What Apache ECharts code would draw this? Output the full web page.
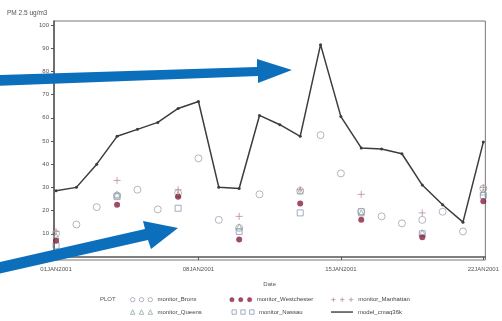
<!DOCTYPE html>
<html>
<head>
<meta charset="utf-8">
<script src="https://cdn.jsdelivr.net/npm/echarts@6/dist/echarts.min.js"></script>
<style>
html, body { margin: 0; padding: 0; background: #fff; }
#chart { width: 502px; height: 321px; }
</style>
</head>
<body>
<div id="chart"></div>
<script>
// Daily PM2.5, January 2001
const dates = ['01JAN2001','02JAN2001','03JAN2001','04JAN2001','05JAN2001','06JAN2001','07JAN2001',
  '08JAN2001','09JAN2001','10JAN2001','11JAN2001','12JAN2001','13JAN2001','14JAN2001','15JAN2001',
  '16JAN2001','17JAN2001','18JAN2001','19JAN2001','20JAN2001','21JAN2001','22JAN2001'];
const xTickLabels = ['01JAN2001','08JAN2001','15JAN2001','22JAN2001'];
const yTickLabels = [0, 10, 20, 30, 40, 50, 60, 70, 80, 90, 100];

const modelCmaq36k = [28.5, 30, 40, 52, 55, 58, 64, 67, 30, 29.5, 61, 57, 52, 91.5, 60.5, 47, 46.5, 44.5, 31, 22.5, 15, 49.5];
const monitorBronx = [10, 14, 21.5, 26.5, 29, 20.5, 27.5, 42.5, 16, 12.5, 27, null, 28.5, 52.5, 36, 19.5, 17.5, 14.5, 16, 19.5, 11, 29.5];
const monitorQueens = [9, null, null, 27, null, null, 27, null, null, 13, null, null, 28.5, null, null, 19, null, null, 10.5, null, null, 28];
const monitorWestchester = [7, null, null, 22.5, null, null, 26, null, null, 7.5, null, null, 23, null, null, 16, null, null, 8.5, null, null, 24];
const monitorNassau = [5, null, null, 26, null, null, 21, null, null, 11, null, null, 19, null, null, 19.5, null, null, 10, null, null, 26.5];
const monitorManhattan = [11, null, null, 33, null, null, 29, null, null, 17.5, null, null, 29, null, null, 27, null, null, 19, null, null, 30];

const FONT = 'Liberation Sans';
const dayOf = d => dates.indexOf(d) + 1;
const pairs = arr => arr.map((v, i) => [i + 1, v]).filter(p => p[1] !== null);

// three-symbol legend glyphs (22 x 5 box)
const ICON_CIRCLES = 'path://M0.4,2.5a2.1,2.1 0 1,0 4.2,0a2.1,2.1 0 1,0 -4.2,0Z' +
  'M8.9,2.5a2.1,2.1 0 1,0 4.2,0a2.1,2.1 0 1,0 -4.2,0Z' +
  'M17.4,2.5a2.1,2.1 0 1,0 4.2,0a2.1,2.1 0 1,0 -4.2,0Z';
const ICON_TRIANGLES = 'path://M0.4,4.8L2.5,0.3L4.6,4.8ZM8.9,4.8L11,0.3L13.1,4.8ZM17.4,4.8L19.5,0.3L21.6,4.8Z';
const ICON_SQUARES = 'path://M0.4,0.4h4.2v4.2h-4.2ZM8.9,0.4h4.2v4.2h-4.2ZM17.4,0.4h4.2v4.2h-4.2Z';
const ICON_PLUS = 'path://M0.4,2.5h4.2M2.5,0.4v4.2M8.9,2.5h4.2M11,0.4v4.2M17.4,2.5h4.2M19.5,0.4v4.2';
const ICON_LINE = 'path://M0,1.8h22v1.4h-22Z';
const PLUS = 'path://M0,5L10,5M5,0L5,10';

const C_BRONX = '#a2a2b4', C_QUEENS = '#8fae98', C_WEST = '#8a1f3f',
      C_NASSAU = '#8c98b4', C_MANH = '#b88c9c', C_MODEL = '#3c3c3c';

const chart = echarts.init(document.getElementById('chart'));
chart.setOption({
  animation: false,
  backgroundColor: '#fff',
  grid: { left: 54, right: 12, top: 21, bottom: 61, show: true, borderColor: '#777', borderWidth: 1 },
  xAxis: {
    type: 'value', min: 0.9, max: 22.1,
    name: 'Date', nameLocation: 'middle', nameGap: 21,
    nameTextStyle: { fontFamily: FONT, fontSize: 6, color: '#555' },
    axisLine: { lineStyle: { color: '#555', width: 1.5 } },
    axisTick: { show: true, length: 3, lineStyle: { color: '#555' }, customValues: xTickLabels.map(dayOf) },
    axisLabel: { fontFamily: FONT, fontSize: 6, color: '#555', margin: 6,
      customValues: xTickLabels.map(dayOf), formatter: v => dates[Math.round(v) - 1] },
    splitLine: { show: false }
  },
  yAxis: {
    type: 'value', min: -1.3, max: 101.7,
    axisLine: { show: true, lineStyle: { color: '#555', width: 1.5 } },
    axisTick: { show: true, length: 3, lineStyle: { color: '#555' }, customValues: yTickLabels },
    axisLabel: { fontFamily: FONT, fontSize: 6, color: '#555', margin: 5, customValues: yTickLabels },
    splitLine: { show: false }
  },
  legend: {
    orient: 'horizontal', left: 128, top: 295, width: 345,
    itemWidth: 22, itemHeight: 5, itemGap: 3, padding: 0, selectedMode: false,
    textStyle: { fontFamily: FONT, fontSize: 6, color: '#444', width: 69, lineHeight: 9 },
    data: [
      { name: 'monitor_Bronx', icon: ICON_CIRCLES, itemStyle: { color: 'none', borderColor: C_BRONX, borderWidth: 1 } },
      { name: 'monitor_Westchester', icon: ICON_CIRCLES, itemStyle: { color: C_WEST, borderColor: C_WEST, borderWidth: 0.5 } },
      { name: 'monitor_Manhattan', icon: ICON_PLUS, itemStyle: { color: 'none', borderColor: C_MANH, borderWidth: 1 } },
      { name: 'monitor_Queens', icon: ICON_TRIANGLES, itemStyle: { color: 'none', borderColor: C_QUEENS, borderWidth: 1 } },
      { name: 'monitor_Nassau', icon: ICON_SQUARES, itemStyle: { color: 'none', borderColor: C_NASSAU, borderWidth: 1 } },
      { name: 'model_cmaq36k', icon: ICON_LINE, itemStyle: { color: C_MODEL, borderWidth: 0 } }
    ]
  },
  graphic: [
    { type: 'text', left: 7, top: 10, style: { text: 'PM 2.5 ug/m3', fontFamily: FONT, fontSize: 6.5, fill: '#555' } },
    { type: 'text', left: 100, top: 296, style: { text: 'PLOT', fontFamily: FONT, fontSize: 6, fill: '#555' } },
    // blue call-out arrows
    { type: 'polygon', z: 100, shape: { points: [[-4, 75], [257, 67], [257, 59], [292, 70], [258, 83], [258, 76], [-4, 86]] },
      style: { fill: '#0b6fbb' } },
    { type: 'polygon', z: 100, shape: { points: [[-4, 263], [145, 229], [143, 221], [178, 228], [151, 249], [148, 240], [-2, 274]] },
      style: { fill: '#0b6fbb' } }
  ],
  series: [
    { name: 'monitor_Bronx', type: 'scatter', data: pairs(monitorBronx), symbol: 'circle', symbolSize: 7,
      itemStyle: { color: 'none', borderColor: C_BRONX, borderWidth: 1 } },
    { name: 'monitor_Queens', type: 'scatter', data: pairs(monitorQueens), symbol: 'triangle', symbolSize: 6,
      itemStyle: { color: 'none', borderColor: C_QUEENS, borderWidth: 1 } },
    { name: 'monitor_Nassau', type: 'scatter', data: pairs(monitorNassau), symbol: 'rect', symbolSize: 6,
      itemStyle: { color: 'none', borderColor: C_NASSAU, borderWidth: 1 } },
    { name: 'monitor_Manhattan', type: 'scatter', data: pairs(monitorManhattan), symbol: PLUS, symbolSize: 7,
      itemStyle: { color: 'none', borderColor: C_MANH, borderWidth: 1 } },
    { name: 'monitor_Westchester', type: 'scatter', data: pairs(monitorWestchester), symbol: 'circle', symbolSize: 6,
      itemStyle: { color: C_WEST } },
    { name: 'model_cmaq36k', type: 'line', data: pairs(modelCmaq36k), symbol: 'circle', symbolSize: 3, z: 5,
      lineStyle: { color: C_MODEL, width: 1.5 }, itemStyle: { color: C_MODEL } }
  ]
});
</script>
</body>
</html>
